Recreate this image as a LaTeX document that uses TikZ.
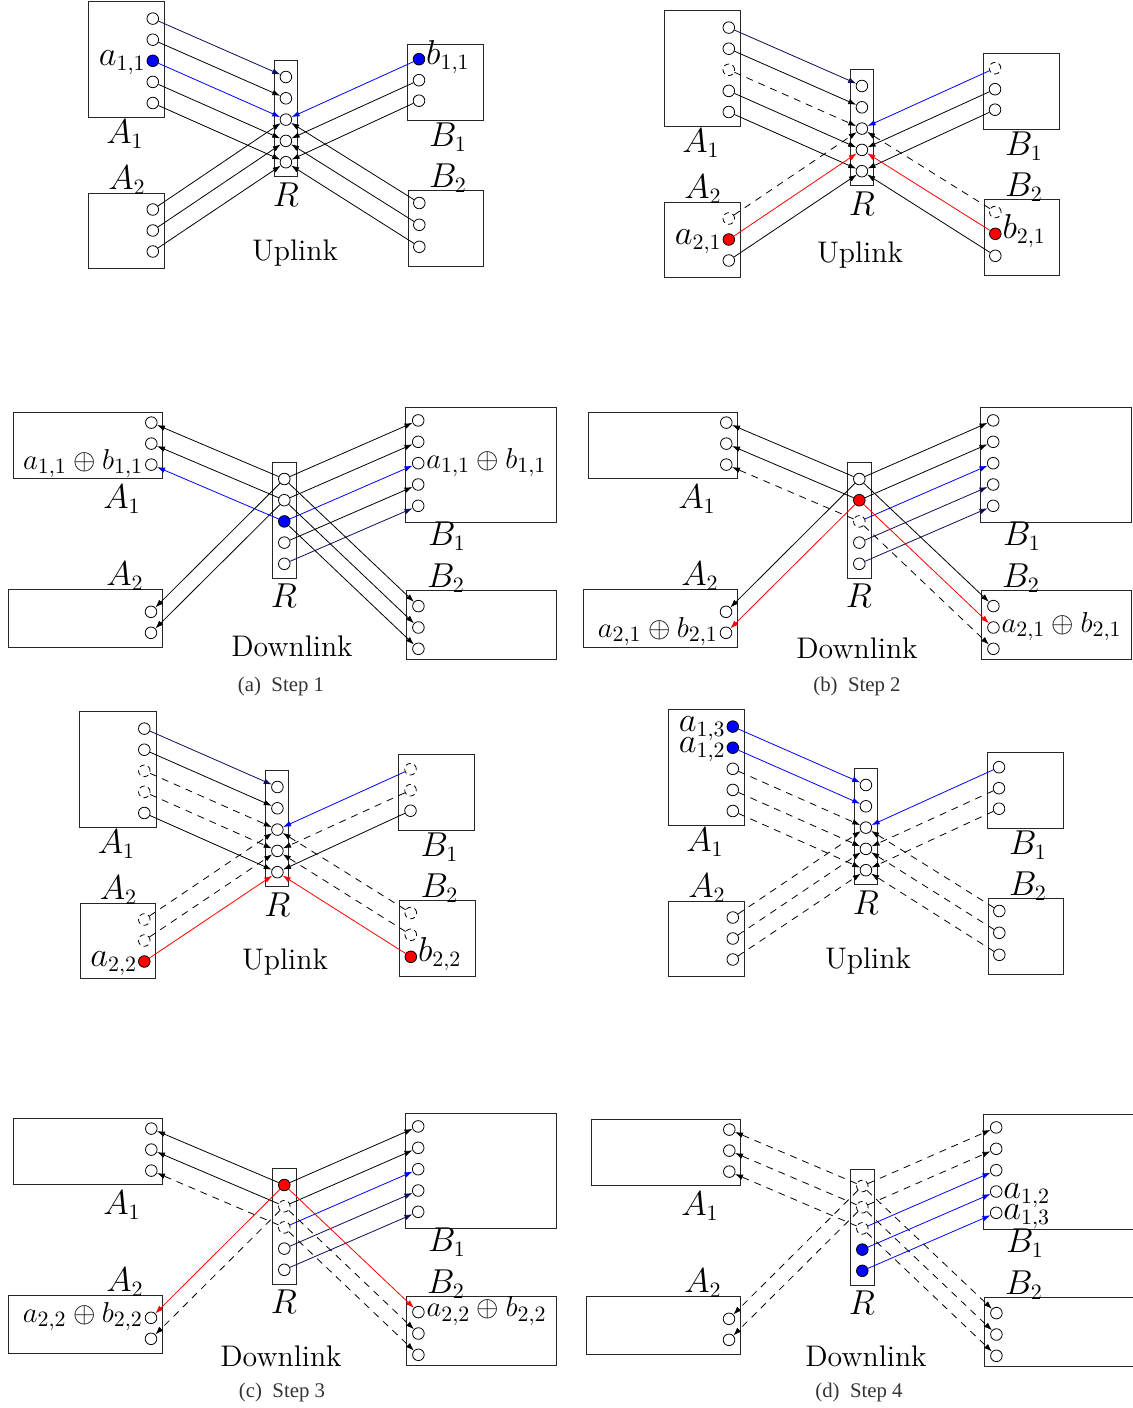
\documentclass[tikz,border=0pt]{standalone}
\usepackage{fontspec}
\newfontfamily\capfont{Liberation Serif}
\usetikzlibrary{arrows.meta}
\definecolor{navyc}{RGB}{12,12,88}
\tikzset{
 port/.style={circle,draw,minimum size=5.8pt,inner sep=0pt,line width=0.4pt,fill=white},
 dport/.style={dash pattern=on 2.6pt off 1.8pt},
 bport/.style={fill=blue},
 rport/.style={fill=red},
 boxline/.style={draw=black!85,line width=0.45pt},
 lbl/.style={font=\fontsize{16}{19}\selectfont,inner sep=0pt},
 ttl/.style={font=\fontsize{14.9}{18}\selectfont,inner sep=0pt},
 ptxt/.style={font=\fontsize{16}{19}\selectfont,inner sep=0.3pt},
 xtxt/.style={font=\fontsize{15.6}{18}\selectfont,inner sep=0.8pt},
 captxt/.style={font=\capfont\fontsize{10.4}{12}\selectfont,text=black!80},
 arr/.style={-{Latex[length=4pt,width=2.8pt]},line width=0.4pt},
 darr/.style={arr,dash pattern=on 3.5pt off 3pt},
 barr/.style={arr,blue},
 narr/.style={arr,navyc},
 rarr/.style={arr,red},
 sA1c1/.style={},sA1c2/.style={},sA1c3/.style={},sA1c4/.style={},sA1c5/.style={},
 sRc1/.style={},sRc2/.style={},sRc3/.style={},sRc4/.style={},sRc5/.style={},
 sB1c1/.style={},sB1c2/.style={},sB1c3/.style={},sB1c4/.style={},sB1c5/.style={},
 sA2c1/.style={},sA2c2/.style={},sA2c3/.style={},
 sB2c1/.style={},sB2c2/.style={},sB2c3/.style={}
}
\newcommand\ULbody[1]{%
\draw[boxline] (88.4,1.7) rectangle (164.5,117.5);
\draw[boxline] (274.2,60.2) rectangle (297.4,176.4);
\draw[boxline] (407.2,44.3) rectangle (483.2,120.2);
\draw[boxline] (88.6,193.3) rectangle (164.1,268.8);
\draw[boxline] (408.1,190.5) rectangle (483.5,266.2);
\node[port,sA1c1] (#1A1c1) at (152.8,18.6) {};
\node[port,sA1c2] (#1A1c2) at (152.8,39.7) {};
\node[port,sA1c3] (#1A1c3) at (152.8,60.8) {};
\node[port,sA1c4] (#1A1c4) at (152.8,81.9) {};
\node[port,sA1c5] (#1A1c5) at (152.8,103) {};
\node[port,sRc1] (#1Rc1) at (285.9,77) {};
\node[port,sRc2] (#1Rc2) at (285.9,98.3) {};
\node[port,sRc3] (#1Rc3) at (285.9,119.6) {};
\node[port,sRc4] (#1Rc4) at (285.9,140.9) {};
\node[port,sRc5] (#1Rc5) at (285.9,162.2) {};
\node[port,sB1c1] (#1B1c1) at (419,59.2) {};
\node[port,sB1c2] (#1B1c2) at (419,80.2) {};
\node[port,sB1c3] (#1B1c3) at (419,100.7) {};
\node[port,sA2c1] (#1A2c1) at (152.8,209.5) {};
\node[port,sA2c2] (#1A2c2) at (152.8,230.5) {};
\node[port,sA2c3] (#1A2c3) at (152.8,251.5) {};
\node[port,sB2c1] (#1B2c1) at (419.3,203) {};
\node[port,sB2c2] (#1B2c2) at (419.3,224.8) {};
\node[port,sB2c3] (#1B2c3) at (419.3,246.8) {};
\node[lbl] (#1LA1) at (125,134) {$A_1$};
\node[lbl] (#1LB1) at (448,137) {$B_1$};
\node[lbl] (#1LA2) at (127,180) {$A_2$};
\node[lbl] (#1LB2) at (448,178) {$B_2$};
\node[lbl] (#1LR) at (286,195) {$R$};
}
\newcommand\DLbody[1]{%
\draw[boxline] (13.7,412.7) rectangle (162.7,478.8);
\draw[boxline] (272.2,462.1) rectangle (296,578);
\draw[boxline] (405.3,407.2) rectangle (556.5,522.1);
\draw[boxline] (8.4,589.2) rectangle (162.4,647.2);
\draw[boxline] (406.3,590.9) rectangle (556.3,659.7);
\node[port,sA1c1] (#1A1c1) at (151.3,422.6) {};
\node[port,sA1c2] (#1A1c2) at (151.3,443.6) {};
\node[port,sA1c3] (#1A1c3) at (151.3,464.6) {};
\node[port,sRc1] (#1Rc1) at (284.3,479) {};
\node[port,sRc2] (#1Rc2) at (284.3,500.2) {};
\node[port,sRc3] (#1Rc3) at (284.3,521.4) {};
\node[port,sRc4] (#1Rc4) at (284.3,542.6) {};
\node[port,sRc5] (#1Rc5) at (284.3,563.8) {};
\node[port,sB1c1] (#1B1c1) at (418.2,420.4) {};
\node[port,sB1c2] (#1B1c2) at (418.2,441.8) {};
\node[port,sB1c3] (#1B1c3) at (418.2,463.2) {};
\node[port,sB1c4] (#1B1c4) at (418.2,484.5) {};
\node[port,sB1c5] (#1B1c5) at (418.2,505.8) {};
\node[port,sA2c1] (#1A2c1) at (151,611.8) {};
\node[port,sA2c2] (#1A2c2) at (151,632.8) {};
\node[port,sB2c1] (#1B2c1) at (418.4,606.1) {};
\node[port,sB2c2] (#1B2c2) at (418.4,627.5) {};
\node[port,sB2c3] (#1B2c3) at (418.4,648.8) {};
\node[lbl] (#1LA1) at (122,499) {$A_1$};
\node[lbl] (#1LB1) at (447,536) {$B_1$};
\node[lbl] (#1LA2) at (125,576) {$A_2$};
\node[lbl] (#1LB2) at (446,578) {$B_2$};
\node[lbl] (#1LR) at (284,596) {$R$};
}
\begin{document}
\begin{tikzpicture}[x=0.5pt,y=-0.5pt]
\useasboundingbox (0,0) rectangle (1133,1408);
\fill[white] (0,0) rectangle (1133,1408);

% ---------- (a) uplink
\begin{scope}[sA1c3/.style={bport},sB1c1/.style={bport}]
\ULbody{ua}
\end{scope}
\node[ttl] (uaT) at (295,253) {Uplink};
\draw[narr] (uaA1c1) -- (uaRc1);
\draw[arr] (uaA1c2) -- (uaRc2);
\draw[barr] (uaA1c3) -- (uaRc3);
\draw[arr] (uaA1c4) -- (uaRc4);
\draw[arr] (uaA1c5) -- (uaRc5);
\draw[arr] (uaA2c1) -- (uaRc3);
\draw[arr] (uaA2c2) -- (uaRc4);
\draw[arr] (uaA2c3) -- (uaRc5);
\draw[barr] (uaB1c1) -- (uaRc3);
\draw[arr] (uaB1c2) -- (uaRc4);
\draw[arr] (uaB1c3) -- (uaRc5);
\draw[arr] (uaB2c1) -- (uaRc3);
\draw[arr] (uaB2c2) -- (uaRc4);
\draw[arr] (uaB2c3) -- (uaRc5);
\node[ptxt,anchor=base east,yshift=-2.4pt] (uaTa) at (uaA1c3.west) {$a_{1,1}$};
\node[ptxt,anchor=base west,yshift=-2.4pt] (uaTb) at (uaB1c1.east) {$b_{1,1}$};

% ---------- (b) uplink
\begin{scope}[shift={(576,9)},sA1c3/.style={dport},sA2c1/.style={dport},sA2c2/.style={rport},
  sB1c1/.style={dport},sB2c1/.style={dport},sB2c2/.style={rport}]
\ULbody{ub}
\end{scope}
\node[ttl] (ubT) at (860,255) {Uplink};
\draw[narr] (ubA1c1) -- (ubRc1);
\draw[arr] (ubA1c2) -- (ubRc2);
\draw[darr] (ubA1c3) -- (ubRc3);
\draw[arr] (ubA1c4) -- (ubRc4);
\draw[arr] (ubA1c5) -- (ubRc5);
\draw[darr] (ubA2c1) -- (ubRc3);
\draw[rarr] (ubA2c2) -- (ubRc4);
\draw[arr] (ubA2c3) -- (ubRc5);
\draw[barr] (ubB1c1) -- (ubRc3);
\draw[arr] (ubB1c2) -- (ubRc4);
\draw[arr] (ubB1c3) -- (ubRc5);
\draw[darr] (ubB2c1) -- (ubRc3);
\draw[rarr] (ubB2c2) -- (ubRc4);
\draw[arr] (ubB2c3) -- (ubRc5);
\node[ptxt,anchor=base east,yshift=-2.4pt] (ubTa) at (ubA2c2.west) {$a_{2,1}$};
\node[ptxt,anchor=base west,yshift=-2.4pt] (ubTb) at (ubB2c2.east) {$b_{2,1}$};

% ---------- (c) uplink
\begin{scope}[shift={(-8.5,710)},sA1c3/.style={dport},sA1c4/.style={dport},
  sA2c1/.style={dport},sA2c2/.style={dport},sA2c3/.style={rport},
  sB1c1/.style={dport},sB1c2/.style={dport},
  sB2c1/.style={dport},sB2c2/.style={dport},sB2c3/.style={rport}]
\ULbody{uc}
\end{scope}
\node[ttl] (ucT) at (285,962) {Uplink};
\draw[narr] (ucA1c1) -- (ucRc1);
\draw[arr] (ucA1c2) -- (ucRc2);
\draw[darr] (ucA1c3) -- (ucRc3);
\draw[darr] (ucA1c4) -- (ucRc4);
\draw[arr] (ucA1c5) -- (ucRc5);
\draw[darr] (ucA2c1) -- (ucRc3);
\draw[darr] (ucA2c2) -- (ucRc4);
\draw[rarr] (ucA2c3) -- (ucRc5);
\draw[barr] (ucB1c1) -- (ucRc3);
\draw[darr] (ucB1c2) -- (ucRc4);
\draw[arr] (ucB1c3) -- (ucRc5);
\draw[darr] (ucB2c1) -- (ucRc3);
\draw[darr] (ucB2c2) -- (ucRc4);
\draw[rarr] (ucB2c3) -- (ucRc5);
\node[ptxt,anchor=base east,yshift=-2.4pt] (ucTa) at (ucA2c3.west) {$a_{2,2}$};
\node[ptxt,anchor=base west,yshift=-2.4pt] (ucTb) at (ucB2c3.east) {$b_{2,2}$};

% ---------- (d) uplink
\begin{scope}[shift={(580,708)},sA1c1/.style={bport},sA1c2/.style={bport}]
\ULbody{ud}
\end{scope}
\node[ttl] (udT) at (868,961) {Uplink};
\draw[barr] (udA1c1) -- (udRc1);
\draw[barr] (udA1c2) -- (udRc2);
\draw[darr] (udA1c3) -- (udRc3);
\draw[darr] (udA1c4) -- (udRc4);
\draw[darr] (udA1c5) -- (udRc5);
\draw[darr] (udA2c1) -- (udRc3);
\draw[darr] (udA2c2) -- (udRc4);
\draw[darr] (udA2c3) -- (udRc5);
\draw[barr] (udB1c1) -- (udRc3);
\draw[darr] (udB1c2) -- (udRc4);
\draw[darr] (udB1c3) -- (udRc5);
\draw[darr] (udB2c1) -- (udRc3);
\draw[darr] (udB2c2) -- (udRc4);
\draw[darr] (udB2c3) -- (udRc5);
\node[ptxt,anchor=base east,yshift=-2.4pt] (udTa) at (udA1c1.west) {$a_{1,3}$};
\node[ptxt,anchor=base east,yshift=-2.4pt] (udTb) at (udA1c2.west) {$a_{1,2}$};

% ---------- (a) downlink
\begin{scope}[sRc3/.style={bport}]
\DLbody{da}
\end{scope}
\node[ttl] (daT) at (292,646.5) {Downlink};
\draw[arr] (daRc1) -- (daA1c1);
\draw[arr] (daRc2) -- (daA1c2);
\draw[barr] (daRc3) -- (daA1c3);
\draw[arr] (daRc1) -- (daA2c1);
\draw[arr] (daRc2) -- (daA2c2);
\draw[arr] (daRc1) -- (daB1c1);
\draw[arr] (daRc2) -- (daB1c2);
\draw[barr] (daRc3) -- (daB1c3);
\draw[arr] (daRc4) -- (daB1c4);
\draw[narr] (daRc5) -- (daB1c5);
\draw[arr] (daRc1) -- (daB2c1);
\draw[arr] (daRc2) -- (daB2c2);
\draw[arr] (daRc3) -- (daB2c3);
\node[xtxt,anchor=base east,yshift=-2.4pt] (daTa) at (daA1c3.west) {$a_{1,1}\oplus b_{1,1}$};
\node[xtxt,anchor=base west,yshift=-2.4pt] (daTb) at (daB1c3.east) {$a_{1,1}\oplus b_{1,1}$};
\node[captxt] (capa) at (281,686) {(a)\enspace Step 1};

% ---------- (b) downlink
\begin{scope}[shift={(575,0)},sRc2/.style={rport},sRc3/.style={dport}]
\DLbody{db}
\end{scope}
\node[ttl] (dbT) at (857,648) {Downlink};
\draw[arr] (dbRc1) -- (dbA1c1);
\draw[arr] (dbRc2) -- (dbA1c2);
\draw[darr] (dbRc3) -- (dbA1c3);
\draw[arr] (dbRc1) -- (dbA2c1);
\draw[rarr] (dbRc2) -- (dbA2c2);
\draw[arr] (dbRc1) -- (dbB1c1);
\draw[arr] (dbRc2) -- (dbB1c2);
\draw[barr] (dbRc3) -- (dbB1c3);
\draw[narr] (dbRc4) -- (dbB1c4);
\draw[narr] (dbRc5) -- (dbB1c5);
\draw[arr] (dbRc1) -- (dbB2c1);
\draw[rarr] (dbRc2) -- (dbB2c2);
\draw[darr] (dbRc3) -- (dbB2c3);
\node[xtxt,anchor=base east,yshift=-2.4pt] (dbTa) at (dbA2c2.west) {$a_{2,1}\oplus b_{2,1}$};
\node[xtxt,anchor=base west,yshift=-2.4pt] (dbTb) at (dbB2c2.east) {$a_{2,1}\oplus b_{2,1}$};
\node[captxt] (capb) at (857,686) {(b)\enspace Step 2};

% ---------- (c) downlink
\begin{scope}[shift={(0,706)},sRc1/.style={rport},sRc2/.style={dport},sRc3/.style={dport}]
\DLbody{dc}
\end{scope}
\node[ttl] (dcT) at (281,1356) {Downlink};
\draw[arr] (dcRc1) -- (dcA1c1);
\draw[arr] (dcRc2) -- (dcA1c2);
\draw[darr] (dcRc3) -- (dcA1c3);
\draw[rarr] (dcRc1) -- (dcA2c1);
\draw[darr] (dcRc2) -- (dcA2c2);
\draw[arr] (dcRc1) -- (dcB1c1);
\draw[arr] (dcRc2) -- (dcB1c2);
\draw[barr] (dcRc3) -- (dcB1c3);
\draw[narr] (dcRc4) -- (dcB1c4);
\draw[narr] (dcRc5) -- (dcB1c5);
\draw[rarr] (dcRc1) -- (dcB2c1);
\draw[darr] (dcRc2) -- (dcB2c2);
\draw[darr] (dcRc3) -- (dcB2c3);
\node[xtxt,anchor=base east,yshift=-2.4pt] (dcTa) at (dcA2c1.west) {$a_{2,2}\oplus b_{2,2}$};
\node[xtxt,anchor=base west,yshift=-2.4pt] (dcTb) at (dcB2c1.east) {$a_{2,2}\oplus b_{2,2}$};
\node[captxt] (capc) at (282,1392) {(c)\enspace Step 3};

% ---------- (d) downlink
\begin{scope}[shift={(578,707)},sRc1/.style={dport},sRc2/.style={dport},sRc3/.style={dport},
  sRc4/.style={bport},sRc5/.style={bport}]
\DLbody{dd}
\end{scope}
\node[ttl] (ddT) at (866,1356) {Downlink};
\draw[darr] (ddRc1) -- (ddA1c1);
\draw[darr] (ddRc2) -- (ddA1c2);
\draw[darr] (ddRc3) -- (ddA1c3);
\draw[darr] (ddRc1) -- (ddA2c1);
\draw[darr] (ddRc2) -- (ddA2c2);
\draw[darr] (ddRc1) -- (ddB1c1);
\draw[darr] (ddRc2) -- (ddB1c2);
\draw[barr] (ddRc3) -- (ddB1c3);
\draw[barr] (ddRc4) -- (ddB1c4);
\draw[barr] (ddRc5) -- (ddB1c5);
\draw[darr] (ddRc1) -- (ddB2c1);
\draw[darr] (ddRc2) -- (ddB2c2);
\draw[darr] (ddRc3) -- (ddB2c3);
\node[ptxt,anchor=base west,yshift=-3.4pt] (ddTa) at (ddB1c4.east) {$a_{1,2}$};
\node[ptxt,anchor=base west,yshift=-3.4pt] (ddTb) at (ddB1c5.east) {$a_{1,3}$};
\node[captxt] (capd) at (859,1392) {(d)\enspace Step 4};
\end{tikzpicture}
\end{document}
